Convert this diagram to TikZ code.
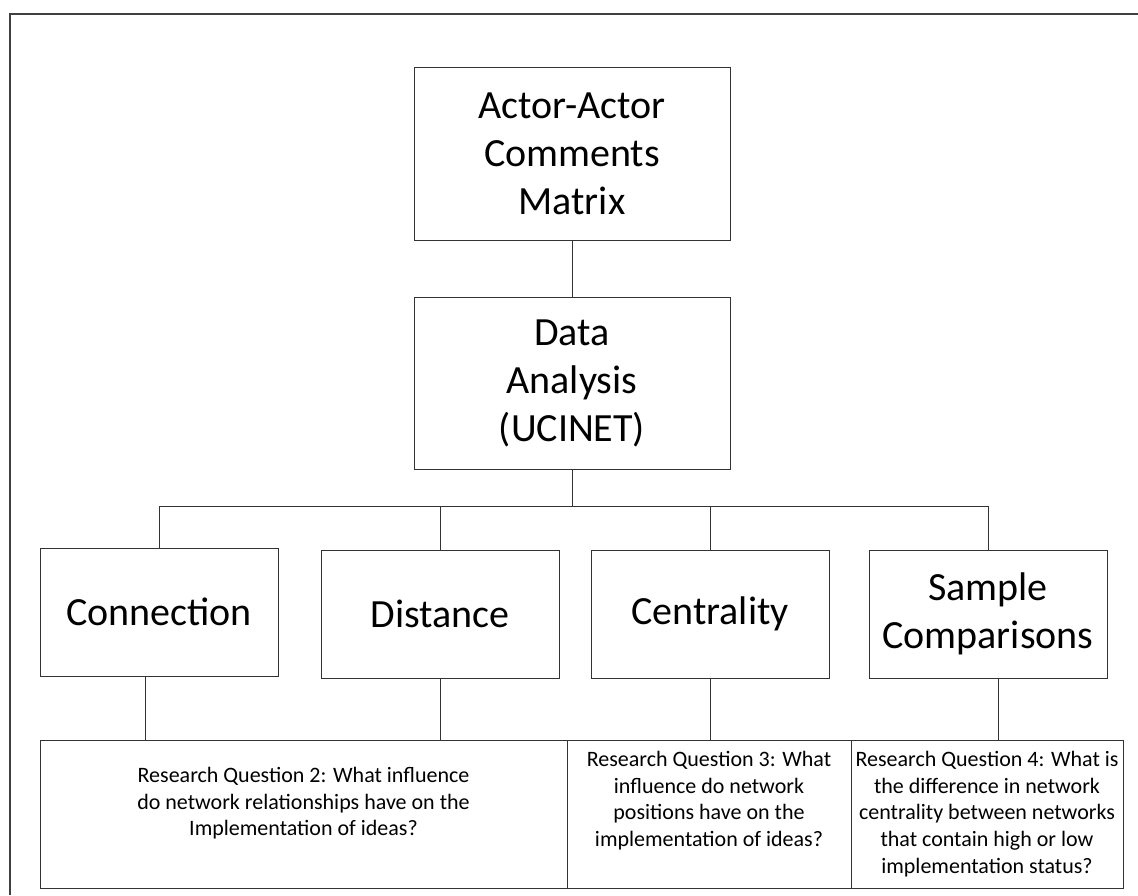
\documentclass[tikz,border=0pt]{standalone}
\usepackage{fontspec}
\setmainfont{Carlito}
\usetikzlibrary{positioning}
\newcommand{\rqtext}[3]{\parbox[c][148pt][t]{#1}{\centering\vspace*{#2}#3}}

\begin{document}
\begin{tikzpicture}[x=1pt, y=-1pt,
		box/.style={draw=black!80, line width=1pt, align=center, inner sep=0pt},
		topbox/.style={box, font=\fontsize{40}{48}\selectfont, minimum width=316pt},
		method/.style={box, font=\fontsize{40}{48}\selectfont, minimum width=238pt, minimum height=128pt},
		question/.style={box, font=\fontsize{22}{26.8}\selectfont, minimum height=148pt},
		link/.style={draw=black!80, line width=1pt}]
		\useasboundingbox (0,0) rectangle (1138,895);
		\draw[black!75, line width=1.4pt] (10,895) -- (10,14) -- (1138,14);

		\node[topbox, minimum height=173pt] (matrix) at (572,153.5) {Actor-Actor\\Comments\\Matrix};
		\node[topbox, minimum height=172pt, below=56pt of matrix] (analysis) {Data\\Analysis\\(UCINET)};

		\node[method] (connection) at (159,612) {Connection};
		\node[method] (distance) at (440,614) {Distance};
		\node[method] (centrality) at (710,614) {Centrality};
		\node[method] (sample) at (988,614) {Sample\\Comparisons};

		\node[question, minimum width=527pt] (rq2) at (303.5,814) {\rqtext{500pt}{27pt}{Research Question 2: What influence\\do network relationships have on the\\Implementation  of ideas?}};
		\node[question, minimum width=284pt] (rq3) at (709,814) {\rqtext{272pt}{11pt}{Research Question 3: What\\influence do network\\positions have on the\\implementation  of ideas?}};
		\node[question, minimum width=272pt] (rq4) at (987,814) {\rqtext{272pt}{11pt}{Research Question 4: What is\\the difference in network\\centrality between networks\\that contain  high or low\\implementation  status?}};

		\coordinate (busbase) at (analysis.south |- connection.north);
		\coordinate (bus) at ([yshift=41pt]busbase);
		\draw[link] (matrix) -- (analysis);
		\draw[link] (analysis.south) -- (bus);
		\draw[link] (connection.north) |- (bus) -| (sample.north);
		\draw[link] (distance.north) -- (distance.north |- bus);
		\draw[link] (centrality.north) -- (centrality.north |- bus);

		\coordinate (c1) at ([xshift=-14pt]connection.south);
		\coordinate (c4) at ([xshift=10pt]sample.south);
		\draw[link] (c1) -- (c1 |- rq2.north);
		\draw[link] (distance.south) -- (distance.south |- rq2.north);
		\draw[link] (centrality.south) -- (centrality.south |- rq3.north);
		\draw[link] (c4) -- (c4 |- rq4.north);
	\end{tikzpicture}
\end{document}
